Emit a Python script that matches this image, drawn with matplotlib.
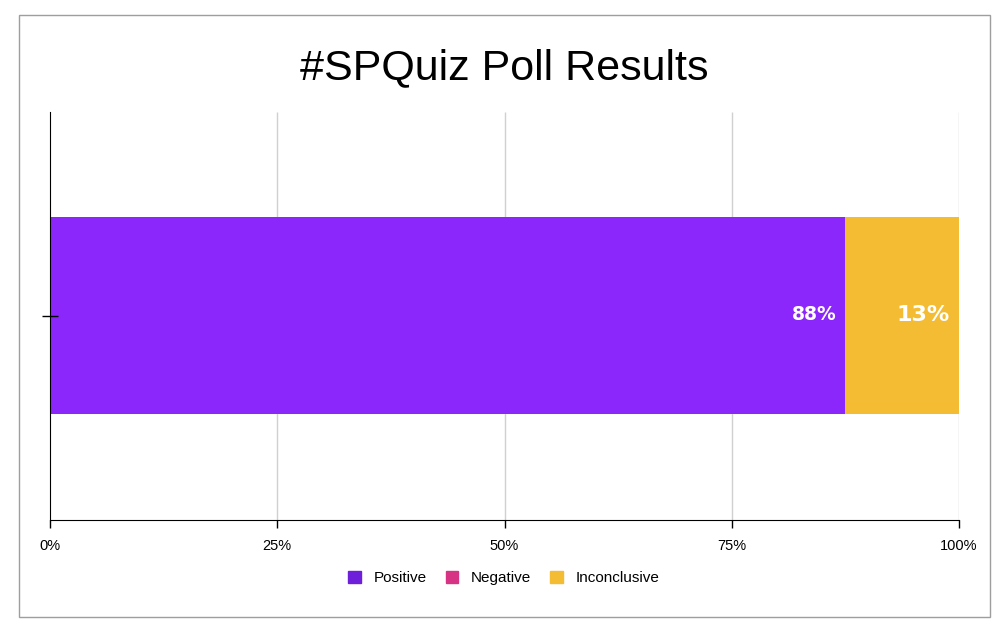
import matplotlib
matplotlib.use("Agg")
import matplotlib.pyplot as plt
from matplotlib.patches import Rectangle
import math

plt.rcParams['font.family'] = ['Liberation Sans', 'DejaVu Sans']

categories = ['Positive', 'Negative', 'Inconclusive']
values = [87.5, 0.0, 12.5]
colors = ['#8c27fb', '#d63384', '#f4bc33']
legend_colors = ['#6d1fd9', '#d63384', '#f4bc33']
xticks = [0, 25, 50, 75, 100]
xticklabels = ['0%', '25%', '50%', '75%', '100%']

# label sizes as they appear in the original (the wide one was squeezed)
label_size = {'Positive': 13.5, 'Negative': 13.5, 'Inconclusive': 16}

fig = plt.figure(figsize=(10.08, 6.34), dpi=100)
ax = fig.add_axes([0.0496, 0.18, 0.9018, 0.6435])

# grey frame round the whole chart
fig.patches.append(Rectangle((19 / 1008, 1 - 617 / 634), 971 / 1008, 602 / 634,
                             transform=fig.transFigure, fill=False,
                             edgecolor='#9e9e9e', linewidth=1))

# gridlines behind the bars, axis lines on top
ax.vlines(xticks[1:], -0.5, 0.5, color='#d0d0d0', linewidth=1, zorder=0.5)

left = 0
for cat, v, c in zip(categories, values, colors):
    ax.barh(0, v, left=left, height=0.483, color=c, zorder=2)
    if v > 0:
        ax.text(left + v - 1.0, 0.003, f"{math.floor(v + 0.5)}%", ha='right', va='center',
                color='white', fontsize=label_size[cat], fontweight='bold',
                family='DejaVu Sans', zorder=3)
    left += v

ax.set_xlim(0, 100)
ax.set_ylim(-0.5, 0.5)
ax.set_xticks(xticks)
ax.set_xticklabels(xticklabels, fontsize=10.5)
ax.set_yticks([0])
ax.set_yticklabels([''])
ax.tick_params(axis='y', length=11, direction='inout', width=1)
ax.tick_params(axis='x', length=6, width=1, pad=8)
ax.set_axisbelow(False)
for s in ['top', 'right']:
    ax.spines[s].set_visible(False)

fig.text(0.5, 1 - 68 / 634, '#SPQuiz Poll Results', ha='center', va='center', fontsize=31)

handles = [Rectangle((0, 0), 1, 1, color=c) for c in legend_colors]
fig.legend(handles, categories, loc='center', bbox_to_anchor=(0.5, 1 - 578 / 634),
           ncol=3, frameon=False, fontsize=11, handlelength=0.8, handleheight=0.8,
           columnspacing=1.25, handletextpad=0.85)

fig.savefig('out.png', dpi=100)
